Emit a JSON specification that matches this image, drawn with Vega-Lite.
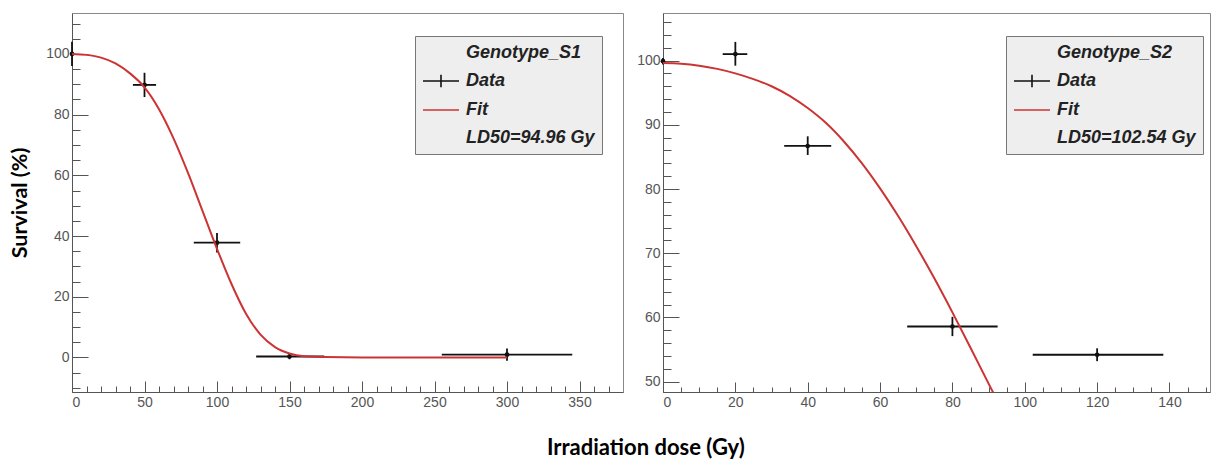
{
  "$schema": "https://vega.github.io/schema/vega-lite/v6.json",
  "background": "white",
  "padding": {"left": 9, "top": 12, "right": 0, "bottom": 2},
  "config": {
    "view": {"stroke": "#888", "strokeWidth": 1},
    "axis": {"labelFont": "Liberation Sans", "labelFontSize": 14, "labelColor": "#555", "domainColor": "#555", "tickColor": "#555", "grid": false, "tickWidth": 1, "domainWidth": 1, "titleFont": "Lato", "titleFontWeight": "bold", "titleFontSize": 21.5, "titleColor": "#000"},
    "legend": {"labelFont": "Liberation Sans", "labelFontSize": 18, "labelFontStyle": "italic", "labelFontWeight": "bold", "labelColor": "#222"}
  },
  "title": {"text": "Irradiation dose (Gy)", "orient": "bottom", "anchor": "middle", "dx": 36, "font": "Lato", "fontSize": 22, "fontWeight": "bold", "color": "#000", "offset": 28},
  "datasets": {
    "s1pts": [
      {"dose": 0, "surv": 100, "xlo": 0, "xhi": 0, "ylo": 96, "yhi": 104},
      {"dose": 50, "surv": 89.8, "xlo": 42, "xhi": 58, "ylo": 85.8, "yhi": 93.8},
      {"dose": 100, "surv": 37.8, "xlo": 84, "xhi": 116, "ylo": 34.6, "yhi": 41},
      {"dose": 150, "surv": 0.3, "xlo": 127, "xhi": 174, "ylo": -0.6, "yhi": 1.2},
      {"dose": 300, "surv": 0.9, "xlo": 255, "xhi": 345, "ylo": -1.1, "yhi": 2.9}
    ],
    "s1fit": [
      {"dose": 0, "surv": 100}, {"dose": 10, "surv": 99.7}, {"dose": 20, "surv": 98.8},
      {"dose": 30, "surv": 96.9}, {"dose": 40, "surv": 93.6}, {"dose": 50, "surv": 89.0},
      {"dose": 60, "surv": 81.8}, {"dose": 70, "surv": 72.2}, {"dose": 80, "surv": 60.8},
      {"dose": 90, "surv": 48.3}, {"dose": 100, "surv": 35.8}, {"dose": 110, "surv": 24.2},
      {"dose": 120, "surv": 14.4}, {"dose": 130, "surv": 7.5}, {"dose": 140, "surv": 3.4},
      {"dose": 150, "surv": 1.3}, {"dose": 160, "surv": 0.4}, {"dose": 175, "surv": 0.1},
      {"dose": 200, "surv": 0}, {"dose": 250, "surv": 0}, {"dose": 300, "surv": 0}
    ],
    "s2pts": [
      {"dose": 0, "surv": 99.9, "xlo": 0, "xhi": 0, "ylo": 99.4, "yhi": 100.4},
      {"dose": 20, "surv": 101.0, "xlo": 16.5, "xhi": 23.3, "ylo": 99.2, "yhi": 102.9},
      {"dose": 40, "surv": 86.7, "xlo": 33.5, "xhi": 46.5, "ylo": 85.3, "yhi": 88.2},
      {"dose": 80, "surv": 58.6, "xlo": 67.5, "xhi": 92.5, "ylo": 57.1, "yhi": 60.1},
      {"dose": 120, "surv": 54.2, "xlo": 102.2, "xhi": 138.3, "ylo": 53.2, "yhi": 55.2}
    ],
    "s2fit": [
      {"dose": 0, "surv": 99.6}, {"dose": 5, "surv": 99.5}, {"dose": 10, "surv": 99.2},
      {"dose": 15, "surv": 98.7}, {"dose": 20, "surv": 98.0}, {"dose": 25, "surv": 97.1},
      {"dose": 30, "surv": 96.0}, {"dose": 35, "surv": 94.5}, {"dose": 40, "surv": 92.6},
      {"dose": 45, "surv": 90.3}, {"dose": 50, "surv": 87.4}, {"dose": 55, "surv": 84.0},
      {"dose": 60, "surv": 80.1}, {"dose": 65, "surv": 75.8}, {"dose": 70, "surv": 71.1},
      {"dose": 75, "surv": 66.1}, {"dose": 80, "surv": 60.8}, {"dose": 85, "surv": 55.3},
      {"dose": 90, "surv": 49.7}, {"dose": 92, "surv": 47.5}
    ]
  },
  "resolve": {"scale": {"stroke": "independent"}, "legend": {"stroke": "independent"}},
  "spacing": 12,
  "hconcat": [
    {
      "width": 551, "height": 379,
      "resolve": {"axis": {"x": "independent", "y": "independent"}},
      "layer": [
        {
          "data": {"name": "s1pts"},
          "mark": {"type": "rule", "color": "#111", "strokeWidth": 1.8},
          "encoding": {
            "x": {"field": "xlo", "type": "quantitative", "scale": {"domain": [0, 380], "nice": false, "zero": false},
                  "axis": {"orient": "bottom", "values": [0, 50, 100, 150, 200, 250, 300, 350], "format": "d", "tickSize": -11, "labelPadding": 14, "title": null}},
            "x2": {"field": "xhi"},
            "y": {"field": "surv", "type": "quantitative", "scale": {"domain": [-11.4, 113.5], "nice": false, "zero": false},
                  "axis": {"orient": "left", "values": [0, 20, 40, 60, 80, 100], "format": "d", "tickSize": -16, "labelPadding": 19, "title": "Survival (%)", "titlePadding": 14}}
          }
        },
        {
          "data": {"name": "s1pts"},
          "mark": {"type": "rule", "color": "#111", "strokeWidth": 1.8},
          "encoding": {
            "x": {"field": "dose", "type": "quantitative", "scale": {"domain": [0, 380], "nice": false, "zero": false}, "axis": null},
            "y": {"field": "ylo", "type": "quantitative", "scale": {"domain": [-11.4, 113.5], "nice": false, "zero": false}, "axis": null},
            "y2": {"field": "yhi"}
          }
        },
        {
          "data": {"name": "s1pts"},
          "mark": {"type": "point", "filled": true, "color": "#111", "size": 22, "opacity": 1},
          "encoding": {
            "x": {"field": "dose", "type": "quantitative", "scale": {"domain": [0, 380], "nice": false, "zero": false}, "axis": null},
            "y": {"field": "surv", "type": "quantitative", "scale": {"domain": [-11.4, 113.5], "nice": false, "zero": false}, "axis": null}
          }
        },
        {
          "data": {"name": "s1fit"},
          "mark": {"type": "line", "strokeWidth": 2, "interpolate": "monotone", "clip": true},
          "encoding": {
            "x": {"field": "dose", "type": "quantitative", "scale": {"domain": [0, 380], "nice": false, "zero": false},
                  "axis": {"orient": "bottom", "values": [10, 20, 30, 40, 60, 70, 80, 90, 110, 120, 130, 140, 160, 170, 180, 190, 210, 220, 230, 240, 260, 270, 280, 290, 310, 320, 330, 340, 360, 370], "labels": false, "domain": false, "tickSize": -6, "title": null}},
            "y": {"field": "surv", "type": "quantitative", "scale": {"domain": [-11.4, 113.5], "nice": false, "zero": false},
                  "axis": {"orient": "left", "values": [-10, -5, 5, 10, 15, 25, 30, 35, 45, 50, 55, 65, 70, 75, 85, 90, 95, 105, 110], "labels": false, "domain": false, "tickSize": -8, "title": null}},
            "stroke": {"datum": "Fit", "type": "nominal",
                       "scale": {"domain": ["Genotype_S1", "Data", "Fit", "LD50=94.96 Gy"], "range": ["transparent", "#111111", "#cc3333", "transparent"]},
                       "legend": {"orient": "none", "legendX": 343, "legendY": 23, "title": null, "fillColor": "#eeeeee", "strokeColor": "#777777", "padding": 7, "labelOffset": 24, "symbolSize": 324, "symbolStrokeWidth": 1.6, "rowPadding": 9,
                                  "encode": {"symbols": {"update": {"shape": {"signal": "datum.value === 'Data' ? 'M-1,0H3M1,-0.7V0.7' : 'M-1,0H3'"}}}}}}
          }
        }
      ]
    },
    {
      "width": 547, "height": 379,
      "resolve": {"axis": {"x": "independent", "y": "independent"}},
      "layer": [
        {
          "data": {"name": "s2pts"},
          "mark": {"type": "rule", "color": "#111", "strokeWidth": 1.8},
          "encoding": {
            "x": {"field": "xlo", "type": "quantitative", "scale": {"domain": [0, 151.2], "nice": false, "zero": false},
                  "axis": {"orient": "bottom", "values": [0, 20, 40, 60, 80, 100, 120, 140], "format": "d", "tickSize": -10, "labelPadding": 13, "title": null}},
            "x2": {"field": "xhi"},
            "y": {"field": "surv", "type": "quantitative", "scale": {"domain": [48.4, 107.4], "nice": false, "zero": false},
                  "axis": {"orient": "left", "values": [50, 60, 70, 80, 90, 100], "format": "d", "tickSize": -16, "labelPadding": 19, "title": null}}
          }
        },
        {
          "data": {"name": "s2pts"},
          "mark": {"type": "rule", "color": "#111", "strokeWidth": 1.8},
          "encoding": {
            "x": {"field": "dose", "type": "quantitative", "scale": {"domain": [0, 151.2], "nice": false, "zero": false}, "axis": null},
            "y": {"field": "ylo", "type": "quantitative", "scale": {"domain": [48.4, 107.4], "nice": false, "zero": false}, "axis": null},
            "y2": {"field": "yhi"}
          }
        },
        {
          "data": {"name": "s2pts"},
          "mark": {"type": "point", "filled": true, "color": "#111", "size": 22, "opacity": 1},
          "encoding": {
            "x": {"field": "dose", "type": "quantitative", "scale": {"domain": [0, 151.2], "nice": false, "zero": false}, "axis": null},
            "y": {"field": "surv", "type": "quantitative", "scale": {"domain": [48.4, 107.4], "nice": false, "zero": false}, "axis": null}
          }
        },
        {
          "data": {"name": "s2fit"},
          "mark": {"type": "line", "strokeWidth": 2, "interpolate": "monotone", "clip": true},
          "encoding": {
            "x": {"field": "dose", "type": "quantitative", "scale": {"domain": [0, 151.2], "nice": false, "zero": false},
                  "axis": {"orient": "bottom", "values": [5, 10, 15, 25, 30, 35, 45, 50, 55, 65, 70, 75, 85, 90, 95, 105, 110, 115, 125, 130, 135, 145, 150], "labels": false, "domain": false, "tickSize": -5, "title": null}},
            "y": {"field": "surv", "type": "quantitative", "scale": {"domain": [48.4, 107.4], "nice": false, "zero": false},
                  "axis": {"orient": "left", "values": [52, 54, 56, 58, 62, 64, 66, 68, 72, 74, 76, 78, 82, 84, 86, 88, 92, 94, 96, 98, 102, 104, 106], "labels": false, "domain": false, "tickSize": -8, "title": null}},
            "stroke": {"datum": "Fit", "type": "nominal",
                       "scale": {"domain": ["Genotype_S2", "Data", "Fit", "LD50=102.54 Gy"], "range": ["transparent", "#111111", "#cc3333", "transparent"]},
                       "legend": {"orient": "none", "legendX": 343, "legendY": 23, "title": null, "fillColor": "#eeeeee", "strokeColor": "#777777", "padding": 7, "labelOffset": 24, "symbolSize": 324, "symbolStrokeWidth": 1.6, "rowPadding": 9,
                                  "encode": {"symbols": {"update": {"shape": {"signal": "datum.value === 'Data' ? 'M-1,0H3M1,-0.7V0.7' : 'M-1,0H3'"}}}}}}
          }
        }
      ]
    }
  ]
}
